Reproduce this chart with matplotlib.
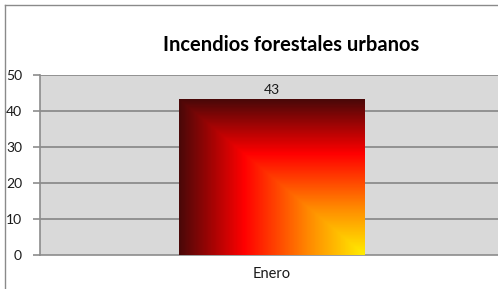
import numpy as np
import matplotlib.pyplot as plt
from matplotlib.colors import LinearSegmentedColormap
from matplotlib.lines import Line2D

categories = ["Enero"]
values = [43]
title = "Incendios forestales urbanos"
y_ticks = [0, 10, 20, 30, 40, 50]

plt.rcParams['font.family'] = ['Lato', 'DejaVu Sans']

W, H = 498, 289
fig = plt.figure(figsize=(W / 100, H / 100), dpi=100)

# outer chart frame (only left and top edges are visible)
fig.add_artist(Line2D([4.5 / W, 4.5 / W], [0, 1 - 4.5 / H], color="#8a8a8a", lw=1.0))
fig.add_artist(Line2D([4.5 / W, 1], [1 - 4.5 / H, 1 - 4.5 / H], color="#8a8a8a", lw=1.0))

left, right, top, bottom = 40, 503, 74.5, 255
ax = fig.add_axes([left / W, 1 - bottom / H, (right - left) / W, (bottom - top) / H])
ax.set_facecolor("#d9d9d9")

for s in ["top", "right"]:
    ax.spines[s].set_visible(False)
ax.spines["left"].set_color("#8c8c8c")
ax.spines["bottom"].set_color("#8c8c8c")
ax.spines["left"].set_linewidth(1.2)
ax.spines["bottom"].set_linewidth(1.2)

ax.set_yticks(y_ticks)
ax.set_yticklabels([str(t) for t in y_ticks], fontsize=10, color="#1a1a1a")
ax.tick_params(axis="y", length=5, color="#8c8c8c", width=1.2, pad=8)
for t in y_ticks[1:]:
    ax.axhline(t, color="#8c8c8c", lw=1.3, zorder=1)

ax.set_xticks([0])
ax.set_xticklabels(categories, fontsize=10.5, color="#1a1a1a")
ax.tick_params(axis="x", length=0, pad=9)

cmap = LinearSegmentedColormap.from_list(
    "fire", [(0.0, "#4a0808"), (0.35, "#ff0000"), (0.7, "#ff8a00"), (1.0, "#ffee00")])

bar_w = 0.4
bars = ax.bar(range(len(values)), values, width=bar_w, color="none", zorder=2)
u = np.linspace(0, 1, 300)
uu, vv = np.meshgrid(u, u)
grad = np.minimum(uu, vv)
for b, v in zip(bars, values):
    x0 = b.get_x()
    ax.imshow(grad, cmap=cmap, extent=[x0, x0 + bar_w, 0, v], origin="upper",
              aspect="auto", zorder=3, interpolation="bilinear")
    ax.text(b.get_x() + bar_w / 2, v + 2.8, str(v), ha="center", va="center",
            fontsize=10, color="#1a1a1a", zorder=4)
ax.set_xlim(-0.5, 0.5)
ax.set_ylim(0, 50)

fig.text(291 / W, 1 - 45 / H, title, ha="center", va="center",
         fontsize=14.5, fontweight="bold", color="#000000")

fig.savefig("out.png", dpi=100)
